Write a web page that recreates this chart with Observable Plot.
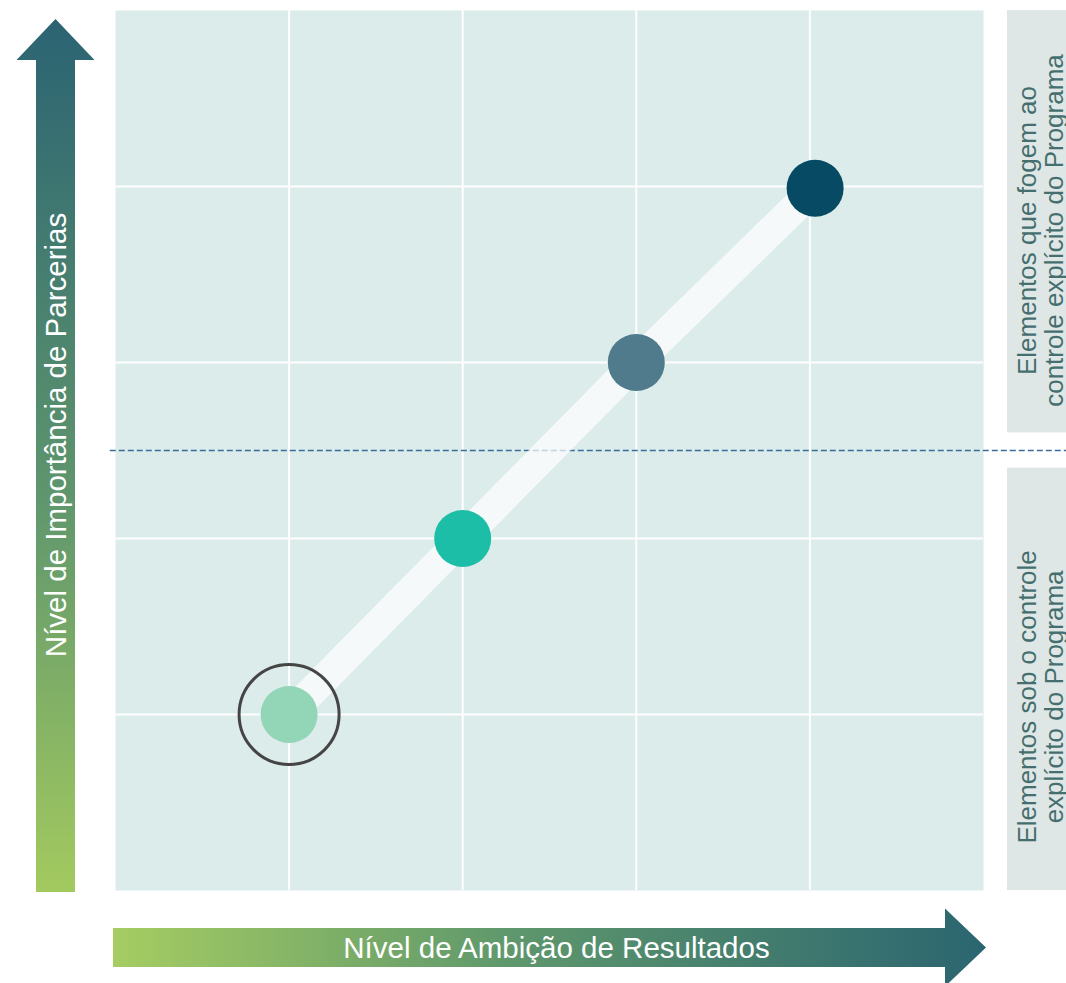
<!DOCTYPE html>
<html><head><meta charset="utf-8">
<script src="https://cdn.jsdelivr.net/npm/d3@7"></script>
<script src="https://cdn.jsdelivr.net/npm/@observablehq/plot@0.6"></script>
<style>
html,body{margin:0;padding:0;background:#fff}
#chart svg{display:block}
</style>
</head><body><div id="chart"></div>
<script>
// ---- data ----
const stages = ["Estágio 1", "Estágio 2", "Estágio 3", "Estágio 4"];
const ambition = [1, 2, 3, 4.03];      // Nível de Ambição de Resultados
const partnership = [1, 2, 3, 3.99];   // Nível de Importância de Parcerias
const stageColors = ["#93d6b7", "#1dbea8", "#4f7b8c", "#074a63"];
const highlightedStage = ["Estágio 1"];
const gridTicks = [1, 2, 3, 4];
const xLabel = "Nível de Ambição de Resultados";
const yLabel = "Nível de Importância de Parcerias";
const zoneLabels = [
  "Elementos que fogem ao\ncontrole explícito do Programa",
  "Elementos sob o controle\nexplícito do Programa"
];
const zoneDivider = 2.5;

// ---- derived table ----
const points = stages.map((s, i) => ({stage: s, x: ambition[i], y: partnership[i], color: stageColors[i]}));
const zones = [
  {label: zoneLabels[0], y1: zoneDivider + 0.1, y2: 5, ty: 3.75},
  {label: zoneLabels[1], y1: 0, y2: zoneDivider - 0.1, ty: 1.1}
];

const W = 1066, H = 983;
const mL = 115, mR = 83, mT = 10, mB = 93;
const font = "'Liberation Sans', Arial, Helvetica, sans-serif";

const plot = Plot.plot({
  width: W, height: H,
  marginLeft: mL, marginRight: mR, marginTop: mT, marginBottom: mB,
  x: {domain: [0, 5], axis: null},
  y: {domain: [0, 5], axis: null},
  style: {fontFamily: font, background: "white", overflow: "visible"},
  marks: [
    Plot.frame({fill: "#dcecea", stroke: null}),
    Plot.ruleX(gridTicks, {stroke: "white", strokeWidth: 2, strokeOpacity: 0.95}),
    Plot.ruleY(gridTicks, {stroke: "white", strokeWidth: 2, strokeOpacity: 0.95}),
    // right zones
    Plot.rect(zones, {x1: 5.138, x2: 5.6, y1: "y1", y2: "y2", fill: "#dfe7e6"}),
    Plot.text(zones, {x: 5.19, y: "ty", text: "label", rotate: -90, textAnchor: "middle",
      lineAnchor: "top", lineHeight: 1.05, fontSize: 26, fill: "#456f6e", fontFamily: font}),
    // divider
    Plot.ruleY([zoneDivider], {x1: -0.03, x2: 5.5, stroke: "#3a6c9c", strokeWidth: 1.3, strokeDasharray: "6,3"}),
    // path band
    Plot.line(points, {x: "x", y: "y", stroke: "white", strokeWidth: 30, strokeOpacity: 0.7}),
    // highlight ring
    Plot.dot(points.filter(d => highlightedStage.includes(d.stage)), {x: "x", y: "y", r: 50, stroke: "#454545", strokeWidth: 3, fill: "none"}),
    Plot.dot(points, {x: "x", y: "y", r: 28.5, fill: "color", stroke: null})
  ]
});

const svg = d3.select(plot);
const defs = svg.append("defs");
const gv = defs.append("linearGradient").attr("id", "gv").attr("x1", 0).attr("y1", 0).attr("x2", 0).attr("y2", 1);
gv.append("stop").attr("offset", "0%").attr("stop-color", "#2b6373");
gv.append("stop").attr("offset", "55%").attr("stop-color", "#5f966d");
gv.append("stop").attr("offset", "100%").attr("stop-color", "#a3ca5f");
const gh = defs.append("linearGradient").attr("id", "gh").attr("x1", 0).attr("y1", 0).attr("x2", 1).attr("y2", 0);
gh.append("stop").attr("offset", "0%").attr("stop-color", "#a6cd62");
gh.append("stop").attr("offset", "45%").attr("stop-color", "#5f986c");
gh.append("stop").attr("offset", "100%").attr("stop-color", "#2b6570");

const gArr = svg.append("g");
// vertical arrow
const vx = 55.5, vhw = 19.5, vTip = 19, vBase = 60, vHead = 39, vBot = 892;
gArr.append("path")
  .attr("d", `M${vx - vhw},${vBot} L${vx - vhw},${vBase} L${vx - vHead},${vBase} L${vx},${vTip} L${vx + vHead},${vBase} L${vx + vhw},${vBase} L${vx + vhw},${vBot} Z`)
  .attr("fill", "url(#gv)");
gArr.append("text")
  .attr("transform", `translate(${vx + 10.5},435) rotate(-90)`)
  .attr("text-anchor", "middle")
  .attr("fill", "white").attr("font-size", 29.5).attr("font-family", font)
  .text(yLabel);
// horizontal arrow
const hy = 947.5, hhw = 19.5, hL = 113, hBase = 945, hTip = 986, hHead = 39;
gArr.append("path")
  .attr("d", `M${hL},${hy - hhw} L${hBase},${hy - hhw} L${hBase},${hy - hHead} L${hTip},${hy} L${hBase},${hy + hHead} L${hBase},${hy + hhw} L${hL},${hy + hhw} Z`)
  .attr("fill", "url(#gh)");
gArr.append("text")
  .attr("x", 556.5).attr("y", hy + 10.5)
  .attr("text-anchor", "middle")
  .attr("fill", "white").attr("font-size", 29.5).attr("font-family", font)
  .text(xLabel);

document.getElementById("chart").appendChild(plot);
</script>
</body></html>
